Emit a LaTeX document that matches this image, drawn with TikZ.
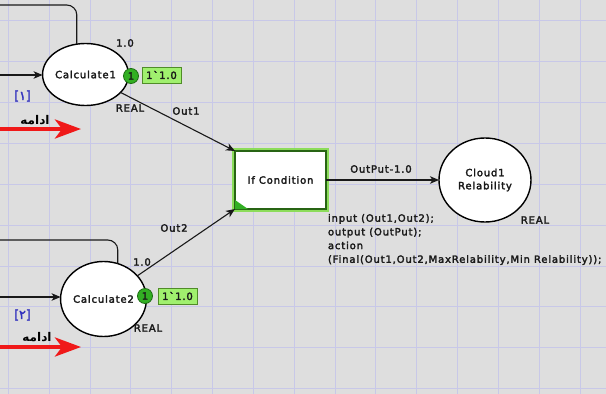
\documentclass[tikz,border=0pt]{standalone}
\usepackage{fontspec}
\setmainfont{DejaVu Sans}[LetterSpace=8.5,Ligatures=TeXOff,FakeBold=2.6]
\newfontfamily\arabicfont[Script=Arabic]{DejaVu Sans}
\newfontfamily\numfont{DejaVu Sans}[FakeBold=2.5]
\TeXXeTstate=1
\usetikzlibrary{arrows.meta,shapes.geometric}
\definecolor{bg}{RGB}{222,222,222}
\definecolor{gridc}{RGB}{200,200,232}
\definecolor{ink}{RGB}{25,25,25}
\definecolor{tokfill}{RGB}{50,175,35}
\definecolor{tokdraw}{RGB}{30,110,20}
\definecolor{markfill}{RGB}{160,240,110}
\definecolor{markdraw}{RGB}{80,140,40}
\definecolor{glow}{RGB}{140,220,90}
\definecolor{transdraw}{RGB}{40,100,20}
\definecolor{arrred}{RGB}{240,25,25}
\definecolor{numblue}{RGB}{50,50,190}
\begin{document}
\begin{tikzpicture}[x=1pt,y=-1pt,
  every node/.style={font=\fontsize{10}{12}\selectfont, text=ink, inner sep=0pt, outer sep=0pt},
  gridline/.style={draw=gridc, line width=1pt},
  place/.style={ellipse, draw=black, fill=white, line width=1.4pt},
  trans/.style={rectangle, draw=transdraw, fill=white, line width=1.3pt,
                preaction={draw=glow, line width=6pt}},
  token/.style={circle, draw=tokdraw, fill=tokfill, line width=0.8pt, minimum size=15pt},
  marking/.style={rectangle, draw=markdraw, fill=markfill, line width=0.8pt, minimum width=39pt, minimum height=16pt},
  lbl/.style={},
  arc/.style={draw=ink, line width=1.1pt, -{Stealth[length=9pt,width=7.5pt,inset=2.5pt]}},
  plainline/.style={draw=ink, line width=1.1pt},
  redarrow/.style={draw=arrred, line width=4pt, -{Stealth[length=26pt,width=19pt,inset=7pt]}},
  arab/.style={font=\arabicfont\bfseries\fontsize{12}{14}\selectfont, text=black},
  numlbl/.style={font=\numfont\fontsize{12.5}{14}\selectfont, text=numblue}
]
\useasboundingbox (0,0) rectangle (606,394);
\fill[bg] (0,0) rectangle (606,394);
\foreach \i in {0,...,14} \draw[gridline] ({8.3+40.85*\i},0) -- ++(0,394);
\foreach \j in {0,...,9} \draw[gridline] (0,{20.6+40.9*\j}) -- ++(606,0);

% places and transition
\node[place, minimum width=77pt, minimum height=62pt] (c1) at (85.5,74.5) {Calculate1};
\node[place, minimum width=77pt, minimum height=75pt] (c2) at (103.5,299) {Calculate2};
\node[place, minimum width=92pt, minimum height=84pt, align=center] (cloud) at (485,180) {Cloud1\\[1pt]Relability};
\node[trans, minimum width=91pt, minimum height=58pt] (ifc) at (280.5,180) {If Condition};
\fill[tokfill] (ifc.south west) -- ++(0,-9) -- ++(13,9) -- cycle;

% tokens and markings
\node[token] (k1) at (131,76) {1};
\node[marking] (m1) at (161.5,75) {1`1.0};
\node[token] (k2) at (145,296) {1};
\node[marking] (m2) at (177.5,296) {1`1.0};

% labels
\node[lbl] (l1a) at (125,43) {1.0};
\node[lbl] (l1b) at (130,108) {REAL};
\node[lbl] (out1) at (186,111) {Out1};
\node[lbl] (l2a) at (142,262) {1.0};
\node[lbl] (l2b) at (148,328) {REAL};
\node[lbl] (out2) at (174,228) {Out2};
\node[lbl] (outp) at (381,169) {OutPut-1.0};
\node[lbl] (l3) at (535,220) {REAL};
\node[lbl, anchor=west, align=left, font=\fontsize{10}{13.7}\selectfont] (code) at (328,239.5)
  {input (Out1,Out2);\\output (OutPut);\\action\\(Final(Out1,Out2,MaxRelability,Min Relability));};

\node[numlbl] (n1) at (22.5,96) {[١]};
\node[numlbl] (n2) at (22.5,315) {[٢]};
\node[arab] (a1) at (35,120) {\beginR ادامه\endR};
\node[arab] (a2) at (37,337) {\beginR ادامه\endR};

% connectors
\draw[arc] (c1) -- (ifc.north west);
\draw[arc] (c2) -- (ifc.south west);
\draw[arc] (ifc) -- (cloud);
\coordinate (in1) at (0,75);
\coordinate (in2) at (0,297);
\draw[arc] (in1) -- (c1.west |- in1);
\draw[arc] (in2) -- (c2.west |- in2);
\coordinate (t1) at (0,5);
\coordinate (t2) at (0,240);
\draw[plainline, rounded corners=10pt] (t1) -| (c1.106);
\draw[plainline, rounded corners=10pt] (t2) -| (c2.68);

% red arrows
\coordinate (r1s) at (0,129);
\coordinate (r1e) at (81,129);
\coordinate (r2s) at (0,347);
\coordinate (r2e) at (81,347);
\draw[redarrow] (r1s) -- (r1e);
\draw[redarrow] (r2s) -- (r2e);
\end{tikzpicture}
\end{document}
